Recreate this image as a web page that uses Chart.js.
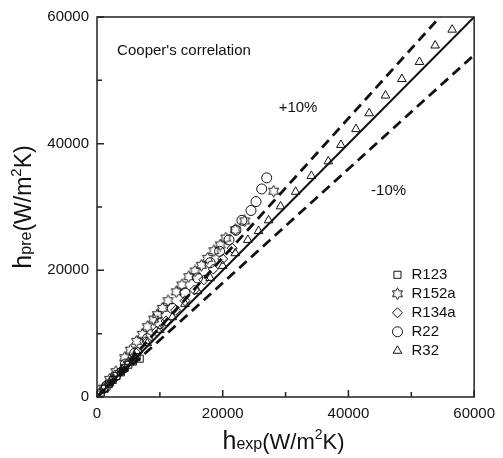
<!DOCTYPE html>
<html lang="en">
<head>
  <meta charset="UTF-8">
  <title>Cooper's correlation</title>
  <script src="https://cdn.jsdelivr.net/npm/chart.js"></script>
  <style>
    body { margin: 0; background: #fff; }
  </style>
</head>
<body>
  <canvas id="cooperChart" width="503" height="458"></canvas>

  <script>
    // reference lines (hpre = hexp, +10%, -10%)
    const lineX = [0, 60000];
    const lineEqual = [0, 60000];
    const linePlus10 = [0, 66000];
    const lineMinus10 = [0, 54000];

    // R123
    const r123X = [600, 1200, 1900, 2500, 3100, 3800, 4400, 5000, 5700, 6300, 6800];
    const r123Y = [700, 1300, 2100, 2700, 3300, 3900, 4600, 5100, 5600, 6300, 6050];
    // R152a
    const r152aX = [1000, 2000, 3000, 4400, 5300, 6300, 7200, 8000, 9000, 9600, 10400, 11300, 12600, 13500, 14600, 15600, 16600, 17600, 18600, 19600, 20500, 22000, 23500, 28100];
    const r152aY = [1400, 2800, 4000, 6200, 7400, 8800, 9900, 11100, 12300, 13000, 14000, 15200, 16600, 17700, 19000, 19900, 20800, 21900, 23100, 24000, 25100, 26400, 27800, 32500];
    // R134a
    const r134aX = [1200, 2500, 3700, 5000, 6500, 8000, 9500, 11000, 12500, 14000, 15500, 17000, 18500, 20000, 21500];
    const r134aY = [1300, 2700, 4000, 5500, 7100, 8700, 10400, 12000, 13700, 15200, 16900, 18500, 20200, 21800, 23500];
    // R22
    const r22X = [1500, 3000, 4500, 6000, 8000, 10000, 12000, 14000, 16000, 18000, 19500, 21000, 22100, 23050, 24500, 25300, 26200, 27000];
    const r22Y = [1700, 3400, 5200, 6900, 9200, 11600, 14000, 16400, 18800, 21200, 23000, 24800, 26350, 27900, 29450, 30850, 32850, 34600];
    // R32
    const r32X = [2000, 4000, 6000, 8000, 10000, 12000, 14000, 16000, 18000, 20000, 22000, 24000, 25700, 27300, 29200, 31600, 34100, 36800, 38800, 41200, 43300, 45900, 48500, 51300, 53800, 56500];
    const r32Y = [2200, 4300, 6400, 8500, 10600, 12600, 14700, 16700, 18800, 20700, 22700, 24800, 26200, 27900, 30100, 32400, 34900, 37200, 39800, 42300, 44800, 47600, 50200, 52900, 55500, 58000];

    const xTicks = [0, 20000, 40000, 60000];
    const yTicks = [0, 20000, 40000, 60000];
    const minorTicks = [10000, 30000, 50000];

    const FONT = '"Liberation Sans", Arial, sans-serif';

    // hollow six-pointed star marker
    function makeStar() {
      const c = document.createElement('canvas');
      c.width = 13; c.height = 13;
      const g = c.getContext('2d');
      g.strokeStyle = '#111';
      g.lineWidth = 1;
      g.beginPath();
      for (let i = 0; i < 12; i++) {
        const r = i % 2 === 0 ? 5.8 : 3.3;
        const a = -Math.PI / 2 + i * Math.PI / 6;
        const px = 6.5 + r * Math.cos(a), py = 6.5 + r * Math.sin(a);
        if (i === 0) g.moveTo(px, py); else g.lineTo(px, py);
      }
      g.closePath();
      g.stroke();
      return c;
    }
    const starImg = makeStar();

    function pts(xs, ys) {
      return xs.map((v, i) => ({ x: v, y: ys[i] }));
    }

    function scatter(label, xs, ys, style, radius) {
      return {
        type: 'scatter',
        label: label,
        data: pts(xs, ys),
        pointStyle: style,
        pointRadius: radius,
        pointBorderColor: '#111',
        pointBackgroundColor: 'rgba(0,0,0,0)',
        pointBorderWidth: 1
      };
    }

    function refLine(ys, dash, width) {
      return {
        type: 'line',
        data: pts(lineX, ys),
        borderColor: '#111',
        borderWidth: width,
        borderDash: dash,
        pointRadius: 0,
        fill: false
      };
    }

    const series = [
      scatter('R123', r123X, r123Y, 'rect', 5),
      scatter('R152a', r152aX, r152aY, starImg, 6),
      scatter('R134a', r134aX, r134aY, 'rectRot', 5),
      scatter('R22', r22X, r22Y, 'circle', 5),
      scatter('R32', r32X, r32Y, 'triangle', 5)
    ];

    const annotate = {
      id: 'annotate',
      afterDraw(chart) {
        const ctx = chart.ctx;
        const xs = chart.scales.x, ys = chart.scales.y;
        const a = chart.chartArea;
        ctx.save();
        // frame
        ctx.strokeStyle = '#222';
        ctx.lineWidth = 1.5;
        ctx.strokeRect(a.left, a.top, a.right - a.left, a.bottom - a.top);
        // inward ticks
        ctx.beginPath();
        xTicks.concat(minorTicks).forEach(v => {
          const len = minorTicks.includes(v) ? 5 : 7;
          const px = xs.getPixelForValue(v);
          ctx.moveTo(px, a.bottom); ctx.lineTo(px, a.bottom - len);
        });
        yTicks.concat(minorTicks).forEach(v => {
          const len = minorTicks.includes(v) ? 5 : 7;
          const py = ys.getPixelForValue(v);
          ctx.moveTo(a.left, py); ctx.lineTo(a.left + len, py);
        });
        ctx.stroke();

        // texts in plot
        ctx.fillStyle = '#111';
        ctx.font = '15px ' + FONT;
        ctx.textBaseline = 'middle';
        ctx.textAlign = 'left';
        ctx.fillText("Cooper's correlation", xs.getPixelForValue(3200), ys.getPixelForValue(54600));
        ctx.fillText('+10%', xs.getPixelForValue(28900), ys.getPixelForValue(45600));
        ctx.fillText('-10%', xs.getPixelForValue(43600), ys.getPixelForValue(32600));

        // legend
        const lx = xs.getPixelForValue(47800);
        let ly = ys.getPixelForValue(19300);
        series.forEach(ds => {
          ctx.fillStyle = 'rgba(0,0,0,0)';
          ctx.strokeStyle = '#111';
          ctx.lineWidth = 1;
          Chart.helpers.drawPoint(ctx, {
            pointStyle: ds.pointStyle,
            radius: ds.pointRadius,
            borderWidth: 1,
            rotation: 0
          }, lx, ly);
          ctx.fillStyle = '#111';
          ctx.fillText(ds.label, lx + 14, ly);
          ly += 19;
        });

        // axis titles with sub/superscripts
        function rich(parts) {
          let w = 0;
          parts.forEach(p => { ctx.font = p.size + 'px ' + FONT; w += ctx.measureText(p.t).width; });
          let x = -w / 2;
          parts.forEach(p => {
            ctx.font = p.size + 'px ' + FONT;
            ctx.fillText(p.t, x, p.dy);
            x += ctx.measureText(p.t).width;
          });
        }
        ctx.fillStyle = '#111';
        ctx.textBaseline = 'alphabetic';
        ctx.textAlign = 'left';
        const xt = [
          { t: 'h', size: 25, dy: 0 },
          { t: 'exp', size: 16, dy: 0 },
          { t: '(W/m', size: 22, dy: 0 },
          { t: '2', size: 14, dy: -10 },
          { t: 'K)', size: 22, dy: 0 }
        ];
        ctx.save();
        ctx.translate((a.left + a.right) / 2 - 2, 449);
        rich(xt);
        ctx.restore();
        const yt = [
          { t: 'h', size: 25, dy: 0 },
          { t: 'pre', size: 16, dy: 0 },
          { t: '(W/m', size: 23, dy: 0 },
          { t: '2', size: 15, dy: -10 },
          { t: 'K)', size: 23, dy: 0 }
        ];
        ctx.save();
        ctx.translate(31, (a.top + a.bottom) / 2);
        ctx.rotate(-Math.PI / 2);
        rich(yt);
        ctx.restore();
        ctx.restore();
      }
    };

    const plainNum = v => String(v);

    const ctxCooper = document.getElementById('cooperChart').getContext('2d');
    const cooperChart = new Chart(ctxCooper, {
      data: {
        datasets: [
          refLine(lineEqual, [], 2),
          refLine(linePlus10, [10, 6], 2.8),
          refLine(lineMinus10, [10, 6], 2.8)
        ].concat(series)
      },
      options: {
        responsive: false,
        animation: false,
        layout: { padding: { left: 0, top: 10, right: 26, bottom: 0 } },
        plugins: { legend: { display: false }, tooltip: { enabled: false } },
        scales: {
          x: {
            type: 'linear',
            min: 0, max: 60000,
            afterFit: s => { s.height = 61; },
            afterBuildTicks: s => { s.ticks = xTicks.map(v => ({ value: v })); },
            grid: { display: false, drawTicks: false },
            border: { display: false },
            ticks: { color: '#111', font: { size: 15, family: FONT }, padding: 8, maxRotation: 0, callback: plainNum }
          },
          y: {
            type: 'linear',
            min: 0, max: 60000,
            afterFit: s => { s.width = 97; },
            afterBuildTicks: s => { s.ticks = yTicks.map(v => ({ value: v })); },
            grid: { display: false, drawTicks: false },
            border: { display: false },
            ticks: { color: '#111', font: { size: 15, family: FONT }, padding: 8, callback: plainNum }
          }
        }
      },
      plugins: [annotate]
    });
  </script>
</body>
</html>
